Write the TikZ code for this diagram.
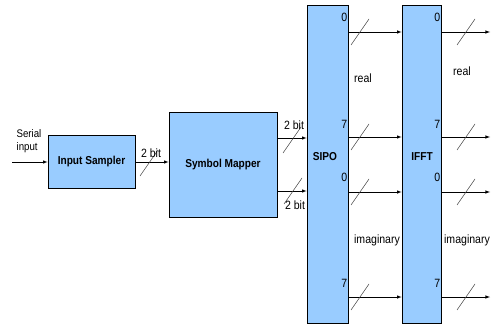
\documentclass[tikz,border=0pt]{standalone}
\usepackage{fontspec}
\setmainfont{Liberation Sans}[FakeStretch=0.88]
\definecolor{boxblue}{RGB}{153,204,255}
\tikzset{
    block/.style={draw, fill=boxblue, line width=0.8pt, inner sep=0pt},
    title/.style={font=\fontsize{11.5}{13}\selectfont\bfseries},
    port/.style={font=\fontsize{12}{14}\selectfont, inner sep=1pt},
    sig/.style={-latex, line width=0.6pt},
    lbl/.style={font=\fontsize{12}{14}\selectfont, inner sep=1pt}
}
\begin{document}
\begin{tikzpicture}[x=1pt, y=-1pt]
        \useasboundingbox (0, 0) rectangle (492, 326);

        \node[block, title, minimum width=87, minimum height=53] (sampler) at (91.5, 162) {Input Sampler};
        \node[block, title, minimum width=108, minimum height=105] (mapper) at (223, 164.5) {Symbol Mapper};
        \node[block, minimum width=41, minimum height=318] (sipo) at (327.5, 164) {};
        \node[block, minimum width=39, minimum height=318] (ifft) at (421.5, 164) {};
        \node[title] (sipolbl) at (325, 157) {SIPO};
        \node[title] (ifftlbl) at (422, 157) {IFFT};

        \coordinate (src) at (12, 162);
        \coordinate (rowa) at (0, 32);
        \coordinate (rowb) at (0, 137);
        \coordinate (rowc) at (0, 192);
        \coordinate (rowd) at (0, 297);
        \coordinate (mapa) at (0, 138);
        \coordinate (mapb) at (0, 191);
        \coordinate (outx) at (490, 0);

        \node[inner sep=1pt, align=left, font=\fontsize{11}{13}\selectfont] (serial) at (29, 141) {Serial\\input};
        \draw[sig] (src) -- (sampler.west |- src);
        \draw[sig] (sampler.east |- src) -- (mapper.west |- src);
        \draw[sig] (mapper.east |- mapa) -- (sipo.west |- mapa);
        \draw[sig] (mapper.east |- mapb) -- (sipo.west |- mapb);

        \foreach \r in {rowa, rowb, rowc, rowd} {
            \draw[sig] (sipo.east |- \r) -- (ifft.west |- \r);
            \draw[sig] (ifft.east |- \r) -- (outx |- \r);
        }

        % bus slashes
        \foreach \x/\y in {149/163, 292/140, 293/191, 360/32, 360/137, 360/192, 360/297, 466/32, 466/137, 466/192, 466/297}
            \draw[line width=0.5pt, black!75] (\x-9, \y+13) -- (\x+9, \y-13);

        \node[lbl] (bita) at (151, 153) {2 bit};
        \node[lbl] (bitb) at (294, 125) {2 bit};
        \node[lbl] (bitc) at (295, 205) {2 bit};

        \foreach \b/\n in {sipo/s, ifft/f} {
            \node[port, anchor=east] (\n0a) at (\b.east |- 0, 17) {0};
            \node[port, anchor=east] (\n7a) at (\b.east |- 0, 124) {7};
            \node[port, anchor=east] (\n0b) at (\b.east |- 0, 177) {0};
            \node[port, anchor=east] (\n7b) at (\b.east |- 0, 283) {7};
        }

        \node[lbl] (rea) at (363, 78) {real};
        \node[lbl] (reb) at (462, 71) {real};
        \node[lbl] (ima) at (377, 240) {imaginary};
        \node[lbl] (imb) at (467, 240) {imaginary};

    \end{tikzpicture}
\end{document}
